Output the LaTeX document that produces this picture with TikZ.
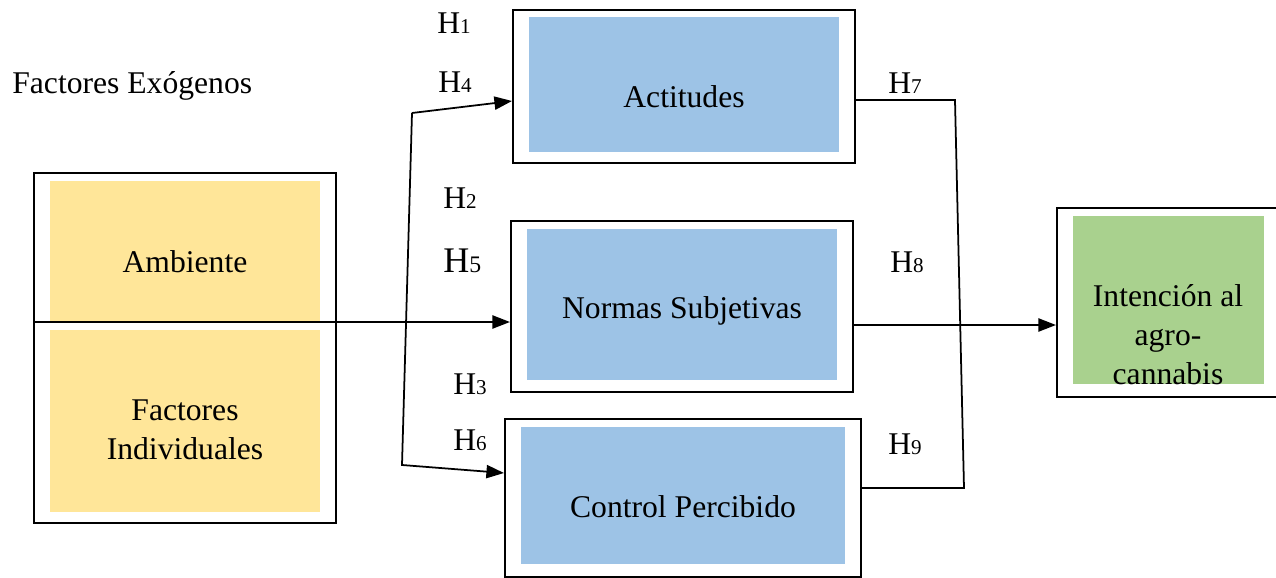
\documentclass[tikz,border=0pt]{standalone}
\usepackage{fontspec}
\setmainfont{Liberation Serif}
\usepackage{xcolor}
\usetikzlibrary{arrows.meta,calc}
\definecolor{boxblue}{HTML}{9DC3E6}
\definecolor{boxgold}{HTML}{FFE699}
\definecolor{boxgreen}{HTML}{A9D18E}
\newcommand{\hyp}[1]{H{\fontsize{12}{13}\selectfont #1}}
\tikzset{every node/.append style={font=\fontsize{18}{22}\selectfont},
  outbox/.style={draw,line width=1.2pt,inner sep=0pt},
  fillbox/.style={fill=#1,inner sep=0pt},
  conn/.style={line width=1pt},
  hlab/.style={anchor=base west,inner sep=0pt}}

\begin{document}
\begin{tikzpicture}[>={Triangle[length=10pt,width=7.5pt]},x=0.02cm,y=-0.02cm]
\useasboundingbox (0,0) rectangle (1276,578);
\node[outbox,minimum width=6.04cm,minimum height=7cm] (exo) at (185,348) {};
\node[fillbox=boxgold,minimum width=5.4cm,minimum height=2.8cm] (amb) at (185,251) {};
\node[fillbox=boxgold,minimum width=5.4cm,minimum height=3.64cm] (ind) at (185,421) {};
\node[outbox,minimum width=6.84cm,minimum height=3.06cm] (act) at (684,86.5) {};
\node[fillbox=boxblue,minimum width=6.2cm,minimum height=2.7cm] (actin) at (684,84.5) {};
\node[outbox,minimum width=6.84cm,minimum height=3.42cm] (nrm) at (682,306.5) {};
\node[fillbox=boxblue,minimum width=6.2cm,minimum height=3.02cm] (nrmin) at (682,304.5) {};
\node[outbox,minimum width=7.12cm,minimum height=3.16cm] (ctl) at (683,498) {};
\node[fillbox=boxblue,minimum width=6.48cm,minimum height=2.74cm] (ctlin) at (683,495.5) {};
\node[outbox,minimum width=4.5cm,minimum height=3.78cm] (int) at (1169.5,302.5) {};
\node[fillbox=boxgreen,minimum width=3.82cm,minimum height=3.36cm] (intin) at (1168.5,300) {};

\node[anchor=base west,inner sep=0pt] (exot) at (12,93) {Factores Exógenos};
\node[anchor=base] (ambt) at (185,272) {Ambiente};
\node[anchor=base,align=center] (indt) at (185,459) {Factores\\Individuales};
\node[anchor=base] (actt) at (684,107) {Actitudes};
\node[anchor=base] (nrmt) at (682,318) {Normas Subjetivas};
\node[anchor=base] (ctlt) at (683,517) {Control Percibido};
\node[anchor=base,align=center] (intt) at (1168,384) {Intención al\\agro-\\cannabis};

\node[hlab] (h1) at (437,33) {\hyp{1}};
\node[hlab] (h4) at (438,92) {\hyp{4}};
\node[hlab] (h2) at (443,208) {\hyp{2}};
\node[hlab,font=\fontsize{20.5}{24}\selectfont] (h5) at (443,272) {H{\fontsize{13.5}{14}\selectfont 5}};
\node[hlab] (h3) at (453,394) {\hyp{3}};
\node[hlab] (h6) at (453,450) {\hyp{6}};
\node[hlab] (h7) at (888,93) {\hyp{7}};
\node[hlab] (h8) at (890,272) {\hyp{8}};
\node[hlab] (h9) at (888,454) {\hyp{9}};

\coordinate (split) at (34,322);
\coordinate (kneeA) at (412,113);
\coordinate (kneeB) at (402,465);
\coordinate (kneeC) at (955,100);
\coordinate (kneeD) at (964,488);
\draw[conn,->] (split) -- (split -| nrm.west);
\draw[conn,->] (kneeA) -- ($(act.west)+(0,14.5)$);
\draw[conn,->] (kneeA) -- (kneeB) -- ($(ctl.west)+(0,-25)$);
\draw[conn] ($(act.east)+(0,13.5)$) -- (kneeC) -- (kneeD) -- ($(ctl.east)+(0,-10)$);
\draw[conn,->] ($(nrm.east)+(0,18.5)$) -- ($(int.west)+(0,22.5)$);
\end{tikzpicture}
\end{document}
